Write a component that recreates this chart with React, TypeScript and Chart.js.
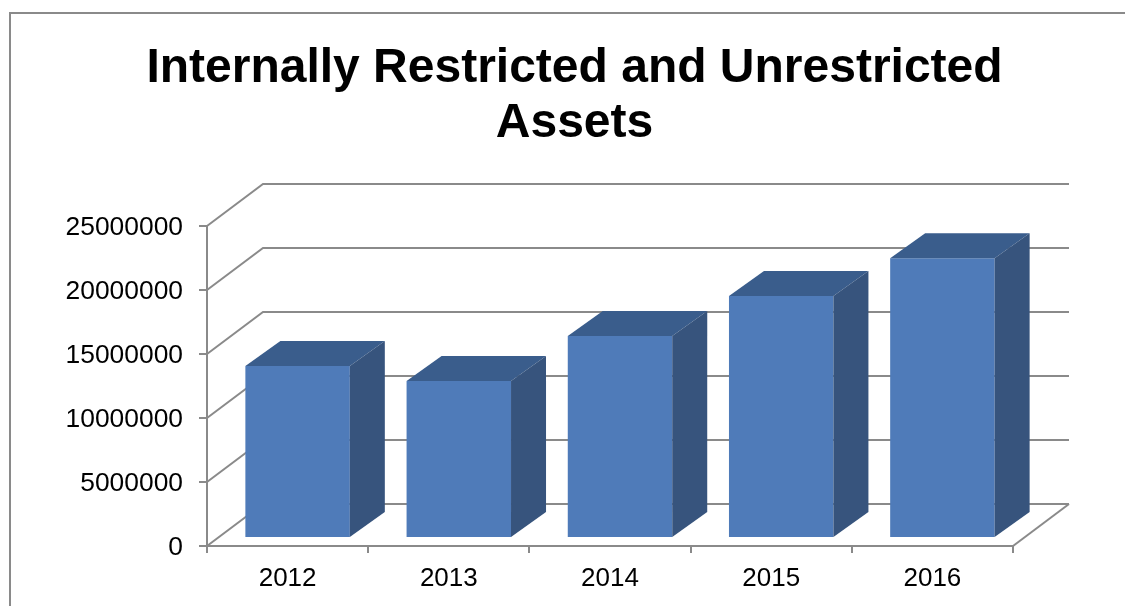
import React, { useEffect, useRef } from "react";
import { Chart, registerables } from "chart.js";

Chart.register(...registerables);

const titleLines = ["Internally Restricted and Unrestricted", "Assets"];
const categories = ["2012", "2013", "2014", "2015", "2016"];
const seriesValues = [13440000, 12270000, 15780000, 18900000, 21850000];
const yMax = 25000000;
const yStep = 5000000;

const GRAY = "#8a8a8a";
const FRONT = "#4f7bb9";
const TOP = "#3a5d8c";
const SIDE = "#37547d";
const WALL_DX = 56;
const WALL_DY = -42;
const BAR_SHIFT_X = 10;
const BAR_SHIFT_Y = -8;
const BAR_DX = 35;
const BAR_DY = -25;

const poly = (ctx: CanvasRenderingContext2D, pts: number[][], fill: string) => {
  ctx.beginPath();
  pts.forEach(([x, y], i) => (i ? ctx.lineTo(x, y) : ctx.moveTo(x, y)));
  ctx.closePath();
  ctx.fillStyle = fill;
  ctx.fill();
};

const frame = {
  id: "frame",
  beforeDraw(chart: any) {
    const { ctx, width, height } = chart;
    ctx.save();
    ctx.fillStyle = "#ffffff";
    ctx.fillRect(0, 0, width, height);
    ctx.strokeStyle = GRAY;
    ctx.lineWidth = 2;
    ctx.beginPath();
    ctx.moveTo(10, height);
    ctx.lineTo(10, 13);
    ctx.lineTo(width, 13);
    ctx.stroke();
    ctx.restore();
  },
};

const walls = {
  id: "walls",
  beforeDatasetsDraw(chart: any) {
    const { ctx, scales } = chart;
    const { x, y } = scales;
    ctx.save();
    ctx.strokeStyle = GRAY;
    ctx.lineWidth = 2;
    y.ticks.forEach((t: any) => {
      const py = y.getPixelForValue(t.value);
      ctx.beginPath();
      ctx.moveTo(x.left, py);
      ctx.lineTo(x.left + WALL_DX, py + WALL_DY);
      ctx.lineTo(x.right + WALL_DX, py + WALL_DY);
      ctx.stroke();
    });
    const y0 = y.getPixelForValue(0);
    ctx.beginPath();
    ctx.moveTo(x.right, y0);
    ctx.lineTo(x.right + WALL_DX, y0 + WALL_DY);
    ctx.stroke();
    ctx.restore();
    ctx.save();
    ctx.translate(BAR_SHIFT_X, BAR_SHIFT_Y);
  },
  afterDatasetsDraw(chart: any) {
    const { ctx } = chart;
    chart.getDatasetMeta(0).data.forEach((bar: any) => {
      const l = bar.x - bar.width / 2;
      const r = bar.x + bar.width / 2;
      const t = bar.y;
      const b = bar.base;
      poly(ctx, [[l, t], [r, t], [r + BAR_DX, t + BAR_DY], [l + BAR_DX, t + BAR_DY]], TOP);
      poly(ctx, [[r, t], [r + BAR_DX, t + BAR_DY], [r + BAR_DX, b + BAR_DY], [r, b]], SIDE);
    });
    ctx.restore();
  },
};

export default function App() {
  const ref = useRef<HTMLCanvasElement>(null);
  useEffect(() => {
    document.body.style.margin = "0";
    const chart = new Chart(ref.current!, {
      type: "bar",
      data: {
        labels: categories,
        datasets: [
          {
            data: seriesValues,
            backgroundColor: FRONT,
            borderWidth: 0,
            categoryPercentage: 1,
            barPercentage: 0.648,
          },
        ],
      },
      options: {
        responsive: false,
        animation: false,
        layout: { padding: { left: 24, right: 0, top: 41, bottom: 0 } },
        plugins: {
          legend: { display: false },
          tooltip: { enabled: false },
          title: {
            display: true,
            text: titleLines,
            color: "#000000",
            align: "center",
            fullSize: true,
            font: { family: "'Liberation Sans'", size: 48, weight: "bold", lineHeight: 1.15 },
            padding: { top: 0, bottom: 74.6 },
          },
        },
        scales: {
          x: {
            afterFit: (s: any) => {
              s.height = 60;
            },
            grid: { drawOnChartArea: false, color: GRAY, lineWidth: 2, tickLength: 7, tickColor: GRAY },
            border: { color: GRAY, width: 2 },
            ticks: { color: "#000000", font: { family: "'Liberation Sans'", size: 26 }, padding: 10, maxRotation: 0 },
          },
          y: {
            min: 0,
            max: yMax,
            afterFit: (s: any) => {
              s.width = 183;
            },
            grid: { drawOnChartArea: false, color: GRAY, lineWidth: 2, tickLength: 8, tickColor: GRAY },
            border: { color: GRAY, width: 2 },
            ticks: {
              stepSize: yStep,
              color: "#000000",
              font: { family: "'Liberation Sans'", size: 26.4 },
              padding: 16,
              labelOffset: 2,
              callback: (v: any) => String(v),
            },
          },
          yRight: {
            type: "linear",
            axis: "y",
            position: "right",
            afterFit: (s: any) => {
              s.width = 112;
            },
            grid: { display: false },
            border: { display: false },
            ticks: { display: false },
          },
        },
      },
      plugins: [frame, walls],
    } as any);
    return () => chart.destroy();
  }, []);
  return <canvas ref={ref} width={1125} height={606} style={{ display: "block" }} />;
}
